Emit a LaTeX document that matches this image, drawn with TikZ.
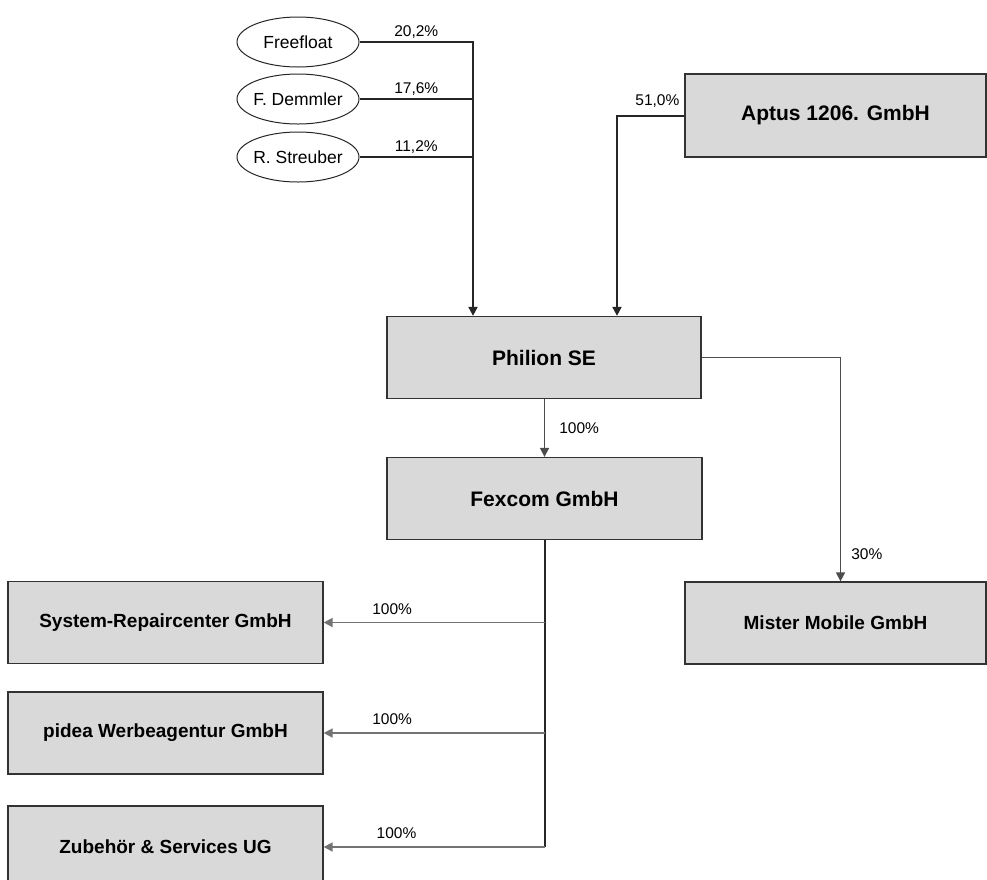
\documentclass[tikz,border=0pt]{standalone}
\usepackage{fontspec}
\setmainfont{Liberation Sans}
\usetikzlibrary{shapes.geometric,arrows.meta}

\begin{document}
\begin{tikzpicture}[x = 1pt, y = -1pt,
firm/.style = {draw = black!80, line width = 1.3pt, fill = gray!30, shape = rectangle, inner sep = 0pt, minimum width = 315pt, minimum height = 82pt, font = \fontsize{19}{23}\selectfont\bfseries},
bigfirm/.style = {firm, font = \fontsize{21}{25}\selectfont\bfseries},
owner/.style = {draw = black!85, line width = 1pt, shape = ellipse, minimum width = 122pt, minimum height = 50pt, inner sep = 0pt, font = \fontsize{17.5}{21}\selectfont},
link/.style = {line width = 2pt, draw = black!85},
share/.style = {link, -{Triangle[length = 9pt, width = 9pt]}},
branch/.style = {share, line width = 1.8pt, draw = black!55},
pct/.style = {font = \fontsize{15.5}{18}\selectfont, inner sep = 2pt}]
\useasboundingbox (0,0) rectangle (987,879);
\node[owner] (1) at (298,42) {\makebox[0pt]{Freefloat}};
\node[owner] (2) at (298,99) {\makebox[0pt]{F. Demmler}};
\node[owner] (3) at (298,157) {\makebox[0pt]{R. Streuber}};
\node[bigfirm, minimum width = 301pt, minimum height = 83pt] (4) at (835.5,115.5) {Aptus 1206. GmbH};
\node[bigfirm, minimum width = 314pt] (5) at (544,357.5) {Philion SE};
\node[bigfirm] (6) at (544.5,498.5) {Fexcom GmbH};
\node[firm, minimum width = 301pt] (7) at (835.5,623) {Mister Mobile GmbH};
\node[firm] (8) at (165.5,622.5) {System-Repaircenter GmbH};
\node[firm] (9) at (165.5,733) {pidea Werbeagentur GmbH};
\node[firm] (10) at (165.5,847) {Zubehör \& Services UG};
\coordinate (in1) at ([xshift = -71pt]5.north);
\coordinate (in2) at ([xshift = 73pt]5.north);
\coordinate (in7) at ([xshift = 5pt]7.north);
% owners of Philion
\draw[share] (1.east) -| (in1) node[pct, pos = 0.25, above = 1pt] (p1) {20,2\%};
\draw[link] (2.east) -- (2.east -| in1) node[pct, midway, above = 1pt] (p2) {17,6\%};
\draw[link] (3.east) -- (3.east -| in1) node[pct, midway, above = 1pt] (p3) {11,2\%};
\draw[share] (4.west) -| (in2) node[pct, pos = 0.2, above = 5pt] (p4) {51,0\%};
% holdings
\draw[share, draw = black!70, line width = 1.6pt] (5.south -| 6.north) -- (6.north) node[pct, midway, right = 12pt] (p5) {100\%};
\draw[share, draw = black!70, line width = 1.6pt] (5.east) -| (in7) node[pct, pos = 0.94, right = 8pt] (p7) {30\%};
\draw[link] (6.south) -- (6.south |- 10.east);
\draw[branch] (6.south |- 8.east) -- (8.east) node[pct, pos = 0.69, above = 5pt] (p8) {100\%};
\draw[branch] (6.south |- 9.east) -- (9.east) node[pct, pos = 0.69, above = 5pt] (p9) {100\%};
\draw[branch] (6.south |- 10.east) -- (10.east) node[pct, pos = 0.67, above = 5pt] (p10) {100\%};
\end{tikzpicture}
\end{document}
